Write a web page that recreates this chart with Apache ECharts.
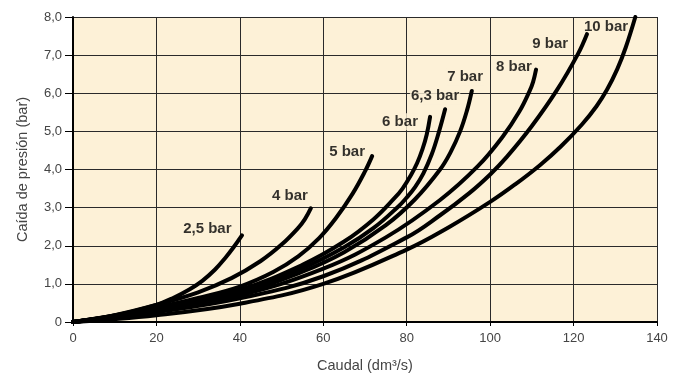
<!DOCTYPE html>
<html>
<head>
<meta charset="utf-8">
<script src="https://cdn.jsdelivr.net/npm/echarts@6/dist/echarts.min.js"></script>
<style>html,body{margin:0;padding:0;background:#fff}#c{width:684px;height:378px}</style>
</head>
<body>
<div id="c"></div>
<script>
// Curves: flow (dm3/s) and pressure drop (bar)
const seriesNames = ['2,5 bar','4 bar','5 bar','6 bar','6,3 bar','7 bar','8 bar','9 bar','10 bar'];
const q25 = [0, 10, 20, 24, 28, 31, 34, 36.5, 38.5, 40.5];
const p25 = [0, 0.17, 0.45, 0.63, 0.86, 1.08, 1.37, 1.68, 1.96, 2.27];
const q4 = [0, 10, 20, 30, 38, 45, 50, 54, 55.6, 57];
const p4 = [0, 0.18, 0.45, 0.78, 1.15, 1.6, 2.03, 2.47, 2.7, 2.98];
const q5 = [0, 10, 20, 30, 40, 48, 54, 59, 63, 67, 70, 71.7];
const p5 = [0, 0.17, 0.38, 0.63, 0.93, 1.31, 1.72, 2.2, 2.72, 3.36, 3.95, 4.35];
const q6 = [0, 20, 40, 55, 65, 72, 77, 79, 81, 82.5, 83.8, 84.8, 85.6];
const p6 = [0, 0.35, 0.85, 1.5, 2.11, 2.69, 3.24, 3.5, 3.85, 4.17, 4.54, 4.92, 5.38];
const q63 = [0, 20, 40, 55, 65, 72, 78, 80, 82, 84, 86, 87.6, 89.2];
const p63 = [0, 0.33, 0.8, 1.41, 1.96, 2.46, 3.03, 3.265, 3.54, 3.9, 4.4, 4.94, 5.58];
const q7 = [0, 20, 40, 55, 65, 75, 82, 88, 90.5, 92.8, 94.4, 95.6];
const p7 = [0, 0.31, 0.75, 1.32, 1.83, 2.54, 3.22, 4.0, 4.45, 5.0, 5.53, 6.06];
const q8 = [0, 20, 40, 60, 75, 88, 97, 103, 107, 109.5, 110.3, 111];
const p8 = [0, 0.29, 0.7, 1.4, 2.22, 3.2, 4.08, 4.86, 5.52, 6.07, 6.3, 6.62];
const q9 = [0, 20, 40, 60, 80, 88, 95, 100, 104, 110, 116, 121, 123.2];
const p9 = [0, 0.26, 0.62, 1.2, 2.22, 2.8, 3.38, 3.87, 4.33, 5.14, 6.08, 7.02, 7.55];
const q10 = [0, 20, 40, 60, 80, 90, 100, 106, 112, 117, 122, 125.5, 128, 130.5, 132.5, 134.8];
const p10 = [0, 0.18, 0.48, 1.0, 1.9, 2.48, 3.15, 3.61, 4.12, 4.61, 5.18, 5.66, 6.09, 6.64, 7.2, 8.0];

// Curve label anchors (data units)
const labelX = [32.2, 52.0, 65.7, 78.4, 86.8, 94.0, 105.7, 114.4, 127.8];
const labelY = [2.44, 3.30, 4.47, 5.25, 5.92, 6.42, 6.70, 7.30, 7.74];

const xTicks = ['0','20','40','60','80','100','120','140'];
const yTicks = ['0','1,0','2,0','3,0','4,0','5,0','6,0','7,0','8,0'];

const curvesQ = [q25, q4, q5, q6, q63, q7, q8, q9, q10];
const curvesP = [p25, p4, p5, p6, p63, p7, p8, p9, p10];

const BG = '#fdf1d7';
const FONT = '"Liberation Sans", Arial, Helvetica, sans-serif';

const lineSeries = curvesQ.map((qs, i) => ({
  name: seriesNames[i],
  type: 'line',
  z: 3,
  smooth: 0.4,
  symbol: 'none',
  lineStyle: { color: '#000', width: 4, cap: 'round', join: 'round' },
  data: qs.map((q, j) => [q, curvesP[i][j]])
}));

const labelSeries = {
  type: 'scatter',
  z: 1,
  symbolSize: 1,
  itemStyle: { color: 'rgba(0,0,0,0)' },
  silent: true,
  data: seriesNames.map((n, i) => ({ value: [labelX[i], labelY[i]], name: n })),
  label: {
    show: true,
    position: 'inside',
    formatter: p => p.name,
    color: '#000',
    fontFamily: FONT,
    fontWeight: 'bold',
    fontSize: 15,
    backgroundColor: BG,
    padding: [1, 1]
  }
};

const chart = echarts.init(document.getElementById('c'), null, { renderer: 'canvas' });
chart.setOption({
  animation: false,
  backgroundColor: '#fff',
  grid: {
    left: 73, right: 27, top: 17, bottom: 54,
    show: true, backgroundColor: BG, borderWidth: 0
  },
  xAxis: {
    type: 'value', min: 0, max: 140, interval: 20,
    name: 'Caudal (dm³/s)', nameLocation: 'middle', nameGap: 36,
    nameTextStyle: { fontFamily: FONT, fontSize: 14.5, color: '#444' },
    axisLine: { show: true, onZero: false, lineStyle: { color: '#000', width: 2 } },
    axisTick: { show: true, length: 4, lineStyle: { color: '#000', width: 1 } },
    axisLabel: { fontFamily: FONT, fontSize: 13, color: '#444', margin: 10,
      formatter: (v) => xTicks[Math.round(v / 20)] },
    splitLine: { show: true, lineStyle: { color: '#2a2a2a', width: 1 } }
  },
  yAxis: {
    type: 'value', min: 0, max: 8, interval: 1,
    name: 'Caída de presión (bar)', nameLocation: 'middle', nameGap: 43,
    nameTextStyle: { fontFamily: FONT, fontSize: 14.5, color: '#444' },
    axisLine: { show: true, onZero: false, lineStyle: { color: '#000', width: 2 } },
    axisTick: { show: true, length: 8, lineStyle: { color: '#000', width: 1 } },
    axisLabel: { fontFamily: FONT, fontSize: 13, color: '#444', margin: 11,
      formatter: (v) => yTicks[Math.round(v)] },
    splitLine: { show: true, lineStyle: { color: '#2a2a2a', width: 1 } }
  },
  series: [labelSeries].concat(lineSeries)
});
</script>
</body>
</html>
